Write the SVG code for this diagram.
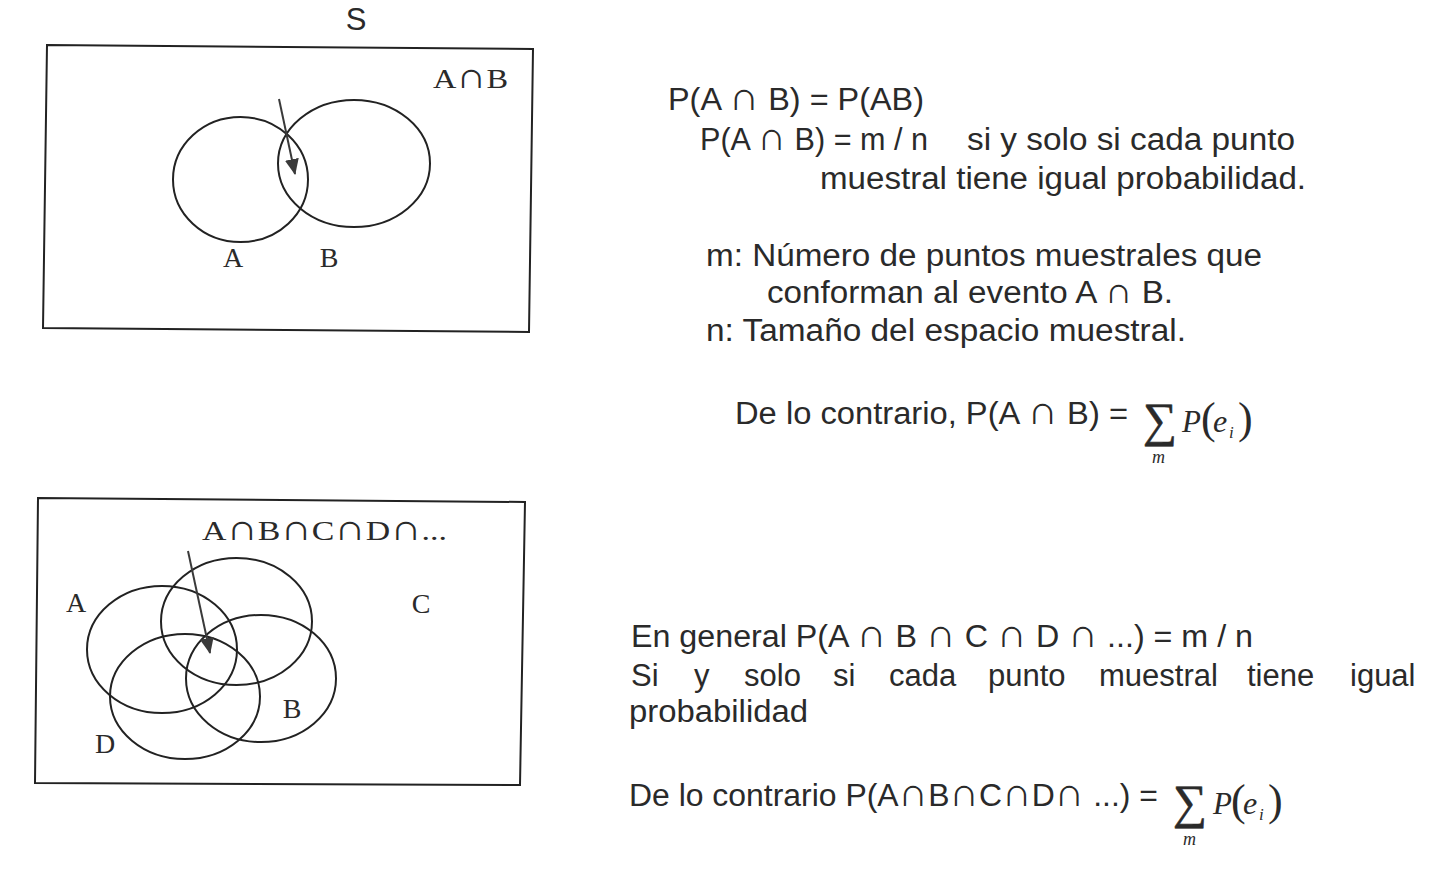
<svg xmlns="http://www.w3.org/2000/svg" width="1446" height="872" viewBox="0 0 1446 872">
<defs>
<marker id="ah" markerWidth="16" markerHeight="14" refX="15" refY="7" orient="auto" markerUnits="userSpaceOnUse">
<path d="M0,0 L16,7 L0,14 Z" fill="#3a3a3a"/>
</marker>
<style>
.frame{fill:none;stroke:#222;stroke-width:2}
.set{fill:none;stroke:#222;stroke-width:2}
.arrow{fill:none;stroke:#3a3a3a;stroke-width:2}
.lbl{font-family:"Liberation Serif","Times New Roman",serif;font-size:28px;fill:#2a2a2a}
.txt{font-family:"Liberation Sans",Arial,sans-serif;font-size:31px;fill:#2a2a2a}
.cap{font-size:40px}
.scap{font-size:36px}
.sig{font-family:"Liberation Serif","Times New Roman",serif;fill:#2a2a2a}
.it{font-family:"Liberation Serif","Times New Roman",serif;font-style:italic;fill:#2a2a2a}
</style>
</defs>
<rect width="1446" height="872" fill="#ffffff"/>

<g id="diagram-top">
<text class="txt" x="356" y="30" text-anchor="middle" font-size="28">S</text>
<polygon id="box-S" class="frame" points="47,45 533,49 529,332 43,328"/>
<g id="set-A"><ellipse class="set" cx="240.5" cy="179.5" rx="67.5" ry="62.5"/><text class="lbl" x="233" y="267" text-anchor="middle">A</text></g>
<g id="set-B"><ellipse class="set" cx="354" cy="163.5" rx="76" ry="63.5"/><text class="lbl" x="329" y="267" text-anchor="middle">B</text></g>
<g id="label-AnB"><text class="lbl" x="433" y="88" textLength="75" lengthAdjust="spacingAndGlyphs">A<tspan class="scap">∩</tspan>B</text></g>
</g>

<g id="diagram-bottom">
<polygon id="box-S2" class="frame" points="38,498 525,502 520,785 35,783"/>
<g id="set-A2"><ellipse class="set" cx="162" cy="649.5" rx="75" ry="63.5"/><text class="lbl" x="76" y="612" text-anchor="middle">A</text></g>
<g id="set-C2"><ellipse class="set" cx="236.5" cy="621.5" rx="75.5" ry="63.5"/><text class="lbl" x="421" y="613" text-anchor="middle">C</text></g>
<g id="set-B2"><ellipse class="set" cx="261" cy="678.5" rx="75" ry="63.5"/><text class="lbl" x="292" y="718" text-anchor="middle">B</text></g>
<g id="set-D2"><ellipse class="set" cx="185" cy="696.5" rx="75" ry="62.5"/><text class="lbl" x="105" y="753" text-anchor="middle">D</text></g>
<g id="label-ABCD"><text class="lbl" x="202" y="540" textLength="245" lengthAdjust="spacingAndGlyphs">A<tspan class="scap">∩</tspan>B<tspan class="scap">∩</tspan>C<tspan class="scap">∩</tspan>D<tspan class="scap">∩</tspan>...</text></g>
</g>

<g id="connectors">
<line class="arrow" x1="279" y1="99" x2="295" y2="174" marker-end="url(#ah)"/>
<line class="arrow" x1="188" y1="551" x2="210" y2="653" marker-end="url(#ah)"/>
</g>

<g id="text-top">
<text class="txt" x="668" y="110" textLength="256" lengthAdjust="spacingAndGlyphs">P(A <tspan class="cap">∩</tspan> B) = P(AB)</text>
<text class="txt" x="700" y="150" textLength="228" lengthAdjust="spacingAndGlyphs">P(A <tspan class="cap">∩</tspan> B) = m / n</text>
<text class="txt" x="967" y="150" textLength="328" lengthAdjust="spacingAndGlyphs">si y solo si cada punto</text>
<text class="txt" x="820" y="189" textLength="486" lengthAdjust="spacingAndGlyphs">muestral tiene igual probabilidad.</text>
<text class="txt" x="706" y="266" textLength="556" lengthAdjust="spacingAndGlyphs">m: Número de puntos muestrales que</text>
<text class="txt" x="767" y="303" textLength="406" lengthAdjust="spacingAndGlyphs">conforman al evento A <tspan font-size="36px">∩</tspan> B.</text>
<text class="txt" x="706" y="341" textLength="480" lengthAdjust="spacingAndGlyphs">n: Tamaño del espacio muestral.</text>
<text class="txt" x="735" y="424" textLength="393" lengthAdjust="spacingAndGlyphs">De lo contrario, P(A <tspan class="cap">∩</tspan> B) =</text>
<g id="sum-1">
<text class="sig" x="1143" y="436" font-size="48" textLength="34" lengthAdjust="spacingAndGlyphs" stroke="#2a2a2a" stroke-width="0.6">∑</text>
<text class="it" x="1182" y="432" font-size="31">P</text>
<text class="sig" x="1201" y="433" font-size="44">(</text>
<text class="it" x="1213" y="432" font-size="32">e</text>
<text class="it" x="1229" y="438" font-size="17">i</text>
<text class="sig" x="1238" y="433" font-size="44">)</text>
<text class="it" x="1152" y="463" font-size="18">m</text>
</g>
</g>

<g id="text-bottom">
<text class="txt" x="631" y="647" textLength="622" lengthAdjust="spacingAndGlyphs">En general P(A <tspan class="cap">∩</tspan> B <tspan class="cap">∩</tspan> C <tspan class="cap">∩</tspan> D <tspan class="cap">∩</tspan> ...) = m / n</text>
<text class="txt" y="686"><tspan x="631">Si</tspan><tspan x="694">y</tspan><tspan x="744">solo</tspan><tspan x="833">si</tspan><tspan x="889">cada</tspan><tspan x="988">punto</tspan><tspan x="1099">muestral</tspan><tspan x="1247">tiene</tspan><tspan x="1350">igual</tspan></text>
<text class="txt" x="629" y="722" textLength="179" lengthAdjust="spacingAndGlyphs">probabilidad</text>
<text class="txt" x="629" y="806" textLength="529" lengthAdjust="spacingAndGlyphs">De lo contrario P(A<tspan class="cap">∩</tspan>B<tspan class="cap">∩</tspan>C<tspan class="cap">∩</tspan>D<tspan class="cap">∩</tspan> ...) =</text>
<g id="sum-2">
<text class="sig" x="1173" y="818" font-size="48" textLength="34" lengthAdjust="spacingAndGlyphs" stroke="#2a2a2a" stroke-width="0.6">∑</text>
<text class="it" x="1213" y="814" font-size="31">P</text>
<text class="sig" x="1231" y="815" font-size="44">(</text>
<text class="it" x="1243" y="814" font-size="32">e</text>
<text class="it" x="1259" y="820" font-size="17">i</text>
<text class="sig" x="1268" y="815" font-size="44">)</text>
<text class="it" x="1183" y="845" font-size="18">m</text>
</g>
</g>
</svg>
